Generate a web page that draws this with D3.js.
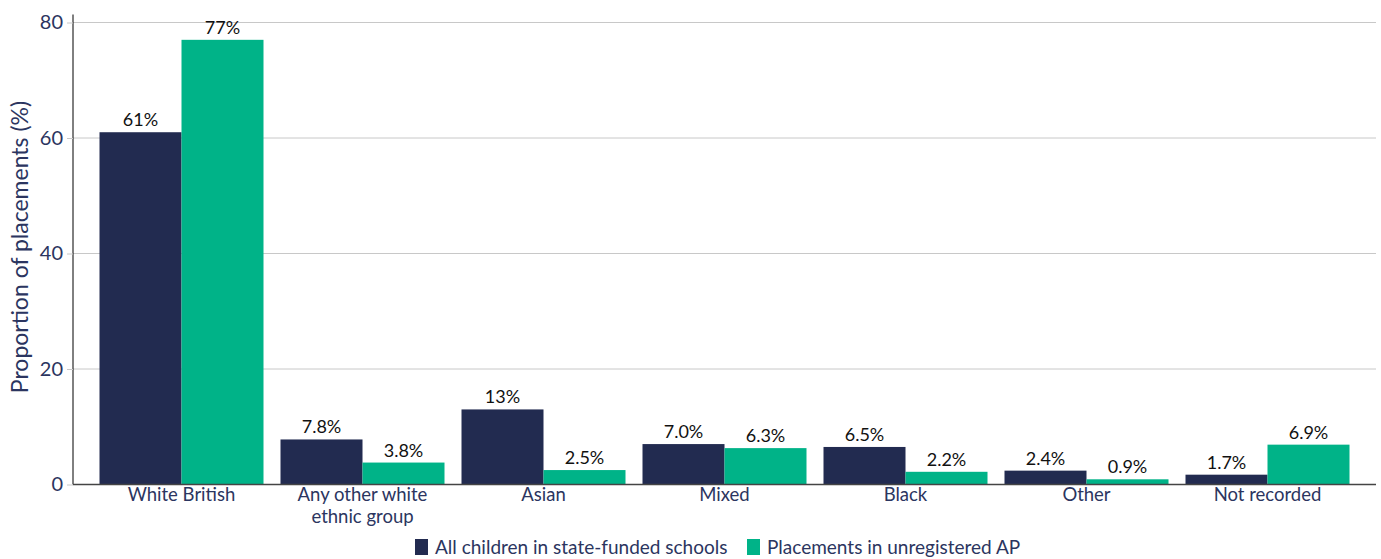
<!DOCTYPE html>
<html>
<head>
<meta charset="utf-8">
<script src="https://cdn.jsdelivr.net/npm/d3@7"></script>
<style>
  html, body { margin: 0; padding: 0; background: #fff; }
  svg { display: block; font-family: Lato, "Open Sans", sans-serif; }
</style>
</head>
<body>
<svg id="chart" width="1381" height="559"></svg>
<script>
// Ethnicity of children: all pupils vs placements in unregistered AP (%)
const categories = [
  ["White British"],
  ["Any other white", "ethnic group"],
  ["Asian"],
  ["Mixed"],
  ["Black"],
  ["Other"],
  ["Not recorded"]
];
const seriesNames = ["All children in state-funded schools", "Placements in unregistered AP"];
const allChildren = [61, 7.8, 13, 7.0, 6.5, 2.4, 1.7];
const unregisteredAP = [77, 3.8, 2.5, 6.3, 2.2, 0.9, 6.9];
const valueLabels = [
  ["61%", "7.8%", "13%", "7.0%", "6.5%", "2.4%", "1.7%"],
  ["77%", "3.8%", "2.5%", "6.3%", "2.2%", "0.9%", "6.9%"]
];
const yTicks = [0, 20, 40, 60, 80];
const colors = ["#222B50", "#00B388"];
const textNavy = "#2B3560";

const svg = d3.select("#chart");
const plot = { left: 73, right: 1376, top: 22.5, bottom: 484.5 };

const keys = categories.map(c => c.join(" "));
const x = d3.scaleBand()
  .domain(keys)
  .range([91, 1358])
  .paddingInner(17 / 181)
  .paddingOuter(17 / 362);
const xSub = d3.scaleBand().domain([0, 1]).range([0, x.bandwidth()]);
const y = d3.scaleLinear().domain([0, 80]).range([plot.bottom, plot.top]);

// gridlines
svg.append("g")
  .selectAll("line")
  .data(yTicks.filter(t => t > 0))
  .join("line")
  .attr("x1", plot.left).attr("x2", plot.right)
  .attr("y1", d => y(d)).attr("y2", d => y(d))
  .attr("stroke", "#c8c8c8").attr("stroke-width", 1);

// y axis
const yAxis = svg.append("g")
  .attr("transform", `translate(${plot.left},0)`)
  .call(d3.axisLeft(y).tickValues(yTicks).tickSize(6).tickPadding(4));
yAxis.select(".domain").attr("stroke", "#000").attr("d", `M0,${plot.top - 8}V${plot.bottom}`);
yAxis.selectAll(".tick line").attr("stroke", "#c8c8c8");
yAxis.selectAll(".tick text")
  .attr("fill", textNavy)
  .style("font-size", "20px")
  .style("font-family", "Lato, 'Open Sans', sans-serif");

svg.append("text")
  .attr("transform", `translate(28,${247}) rotate(-90)`)
  .attr("text-anchor", "middle")
  .attr("fill", textNavy)
  .style("font-size", "23px")
  .text("Proportion of placements (%)");

// bars
const series = [allChildren, unregisteredAP];
const groups = svg.append("g")
  .selectAll("g")
  .data(keys)
  .join("g")
  .attr("transform", d => `translate(${x(d)},0)`);

groups.each(function(key, i) {
  const g = d3.select(this);
  series.forEach((vals, s) => {
    g.append("rect")
      .attr("x", xSub(s))
      .attr("width", xSub.bandwidth())
      .attr("y", y(vals[i]))
      .attr("height", y(0) - y(vals[i]))
      .attr("fill", colors[s]);
    g.append("text")
      .attr("x", xSub(s) + xSub.bandwidth() / 2)
      .attr("y", y(vals[i]) - 6)
      .attr("text-anchor", "middle")
      .attr("fill", "#111")
      .style("font-size", "18px")
      .text(valueLabels[s][i]);
  });
});

// x axis baseline
svg.append("line")
  .attr("x1", plot.left).attr("x2", plot.right)
  .attr("y1", plot.bottom).attr("y2", plot.bottom)
  .attr("stroke", "#444").attr("stroke-width", 1.5);

// category labels
svg.append("g")
  .selectAll("text")
  .data(categories)
  .join("text")
  .attr("x", (d, i) => x(keys[i]) + x.bandwidth() / 2)
  .attr("y", 501)
  .attr("text-anchor", "middle")
  .attr("fill", textNavy)
  .style("font-size", "18.5px")
  .selectAll("tspan")
  .data(d => d)
  .join("tspan")
  .attr("x", function() { return d3.select(this.parentNode).attr("x"); })
  .attr("dy", (d, j) => j === 0 ? 0 : 22)
  .text(d => d);

// legend
const legend = svg.append("g").attr("transform", "translate(415,547)");
const legendX = [0, 332];
seriesNames.forEach((name, s) => {
  const item = legend.append("g").attr("transform", `translate(${legendX[s]},0)`);
  item.append("rect").attr("x", 0).attr("y", -8).attr("width", 13).attr("height", 16).attr("fill", colors[s]);
  item.append("text").attr("x", 20).attr("y", 6.5)
    .attr("fill", textNavy)
    .style("font-size", "19px")
    .text(name);
});
</script>
</body>
</html>
